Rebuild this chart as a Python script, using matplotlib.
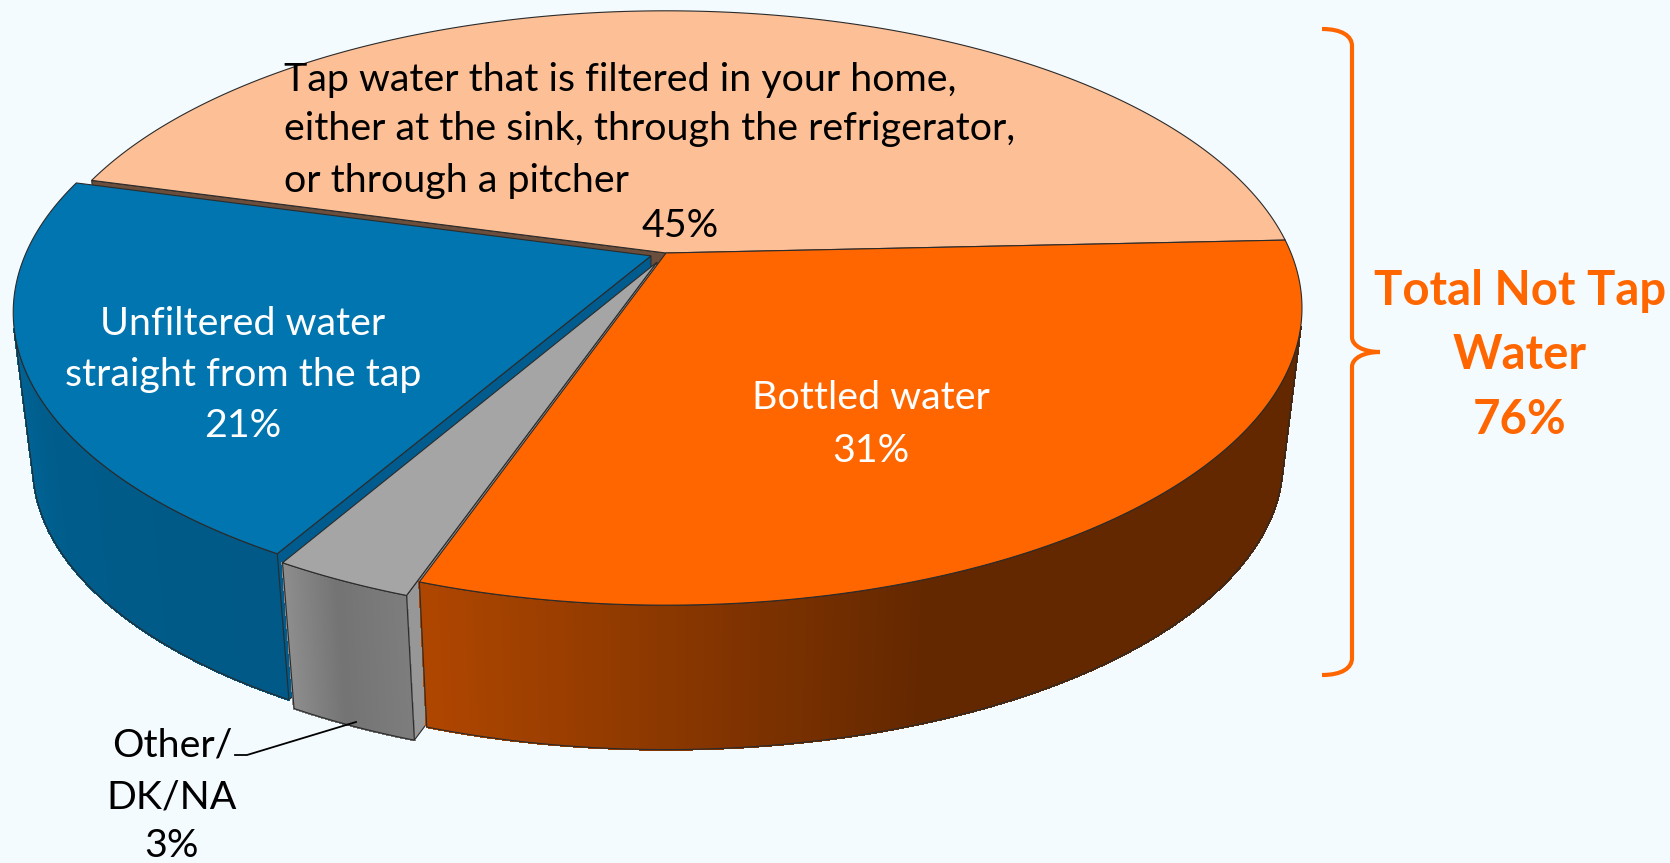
import numpy as np
import matplotlib
matplotlib.use("Agg")
import matplotlib.pyplot as plt
from matplotlib.collections import PolyCollection
from matplotlib.patches import Polygon, PathPatch
from matplotlib.path import Path
from matplotlib.colors import to_rgb

# ---- data ----
categories = ["Tap water filtered at home", "Bottled water", "Other/DK/NA", "Unfiltered tap water"]
shares = [45, 31, 3, 21]
total_not_tap = 76
slice_order = ["Bottled water", "Other/DK/NA", "Unfiltered tap water", "Tap water filtered at home"]

# ---- style ----
W, H = 1670, 863
BG = "#F4FBFF"
ORANGE = "#FF6600"
colors = {"Tap water filtered at home": "#FCBF96", "Bottled water": "#FF6600",
          "Other/DK/NA": "#A5A5A5", "Unfiltered tap water": "#0075B0"}
wall_colors = {"Tap water filtered at home": "#6B4F3C", "Bottled water": "#B04A00",
               "Other/DK/NA": "#979797", "Unfiltered tap water": "#005C8E"}
explode = {"Tap water filtered at home": 0.0, "Bottled water": 0.0,
           "Other/DK/NA": 0.035, "Unfiltered tap water": 0.026}
shade_angles = {"Bottled water": [-109, -70, 3], "Other/DK/NA": [-120, -115, -109],
                "Unfiltered tap water": [-196, -170, -150, -120],
                "Tap water filtered at home": [0, 180]}
shade_levels = {"Bottled water": [0.69, 0.39, 0.39], "Other/DK/NA": [0.86, 0.70, 0.76],
                "Unfiltered tap water": [0.95, 0.87, 0.79, 0.76],
                "Tap water filtered at home": [0.5, 0.5]}
draw_order = ["Tap water filtered at home", "Unfiltered tap water", "Other/DK/NA", "Bottled water"]
START_ANGLE = 2.6
EDGE = "#2b2b2b"

# perspective projection of the pie's circle
CX, CY, A, B, K = 666.0, 253.0, 625.0, 287.0, 0.185
DROP, SHRINK = 155.0, 0.97


def project(u, v, bottom=False):
    w = 1 + K * v
    s = SHRINK if bottom else 1.0
    return CX + s * A * u / w, CY + (DROP if bottom else 0.0) - s * B * v / w


def rim(a0, a1, off, bottom=False, n=160):
    t = np.radians(np.linspace(a0, a1, n))
    x, y = project(np.cos(t) + off[0], np.sin(t) + off[1], bottom)
    return np.column_stack([x, y]), np.degrees(t)


def faces_viewer(poly):
    p = np.asarray(poly)
    q = np.roll(p, -1, axis=0)
    return np.sum(p[:, 0] * q[:, 1] - q[:, 0] * p[:, 1]) < 0


fig = plt.figure(figsize=(W / 100, H / 100), dpi=100, facecolor=BG)
ax = fig.add_axes([0, 0, 1, 1])
ax.set_xlim(0, W)
ax.set_ylim(H, 0)
ax.axis("off")

# slice angles come from the shares, running clockwise
spans = {}
ang = START_ANGLE
for name in slice_order:
    sweep = 360.0 * shares[categories.index(name)] / sum(shares)
    spans[name] = (ang, ang - sweep)
    ang -= sweep

for z, name in enumerate(draw_order):
    a0, a1 = spans[name]
    mid = np.radians((a0 + a1) / 2)
    off = (explode[name] * np.cos(mid), explode[name] * np.sin(mid))
    base = np.array(to_rgb(colors[name]))
    top, th = rim(a0, a1, off)
    bot, _ = rim(a0, a1, off, bottom=True)
    apex_top = np.array(project(off[0], off[1]))
    apex_bot = np.array(project(off[0], off[1], True))
    zb = 10 * z + 2
    # radial cut walls, only where they face the viewer
    for wall in ([apex_top, top[0], bot[0], apex_bot], [top[-1], apex_top, apex_bot, bot[-1]]):
        if faces_viewer(wall):
            ax.add_patch(Polygon(wall, closed=True, facecolor=wall_colors[name],
                                 edgecolor=EDGE, lw=0.8, zorder=zb))
    # outer curved wall with a shaded gradient
    idx = [i for i in range(len(top) - 1)
           if faces_viewer([top[i], top[i + 1], bot[i + 1], bot[i]])]
    if idx:
        quads = [[top[i], top[i + 1], bot[i + 1], bot[i]] for i in idx]
        lev = np.interp([(th[i] + th[i + 1]) / 2 for i in idx], shade_angles[name], shade_levels[name])
        cols = [tuple(base * l) for l in lev]
        ax.add_collection(PolyCollection(quads, facecolors=cols, edgecolors=cols, linewidths=1.0,
                                         antialiaseds=False, zorder=zb + 1))
        keep = idx + [idx[-1] + 1]
        ax.add_patch(Polygon(np.vstack([top[keep], bot[keep][::-1]]), closed=True, facecolor="none",
                             edgecolor=EDGE, lw=0.8, zorder=zb + 2))
    # top face
    ax.add_patch(Polygon(np.vstack([apex_top, top]), closed=True, facecolor=colors[name],
                         edgecolor=EDGE, lw=0.8, zorder=zb + 3))

FONT = ["Lato", "DejaVu Sans"]
def lines(strs, x, ys, size, color, ha="center", weight="normal"):
    for s, y in zip(strs, ys):
        ax.text(x, y, s, fontsize=size, color=color, ha=ha, va="center", family=FONT,
                fontweight=weight, zorder=100)

lines(["Tap water that is filtered in your home,", "either at the sink, through the refrigerator,",
      "or through a pitcher"], 284, [80, 129, 181], 28.4, "black", ha="left")
lines([f"{shares[0]}%"], 680, [226], 28.4, "black")
lines(["Unfiltered water", "straight from the tap", f"{shares[3]}%"], 243, [324, 375, 426], 28.4, "white")
lines(["Bottled water", f"{shares[1]}%"], 871, [398, 451], 28.4, "white")
lines(["Other/", "DK/NA", f"{shares[2]}%"], 172, [745, 797, 846], 28.4, "black")
lines(["Total Not Tap", "Water", f"{total_not_tap}%"], 1520, [291, 355, 420], 34, ORANGE, weight="bold")

# leader for the small slice
ax.plot([356, 247, 235], [722, 755, 755], color="black", lw=1.3, zorder=90)

# curly brace
V = [(1322, 29), (1342, 29), (1352, 36), (1352, 46), (1352, 337), (1352, 346), (1364, 352), (1380, 352),
     (1364, 352), (1352, 358), (1352, 367), (1352, 658), (1352, 668), (1342, 675), (1322, 675)]
C = [Path.MOVETO, Path.CURVE4, Path.CURVE4, Path.CURVE4, Path.LINETO, Path.CURVE4, Path.CURVE4, Path.CURVE4,
     Path.CURVE4, Path.CURVE4, Path.CURVE4, Path.LINETO, Path.CURVE4, Path.CURVE4, Path.CURVE4]
ax.add_patch(PathPatch(Path(V, C), facecolor="none", edgecolor=ORANGE, lw=3.0, zorder=90))

fig.savefig("out.png", dpi=100, facecolor=BG)
